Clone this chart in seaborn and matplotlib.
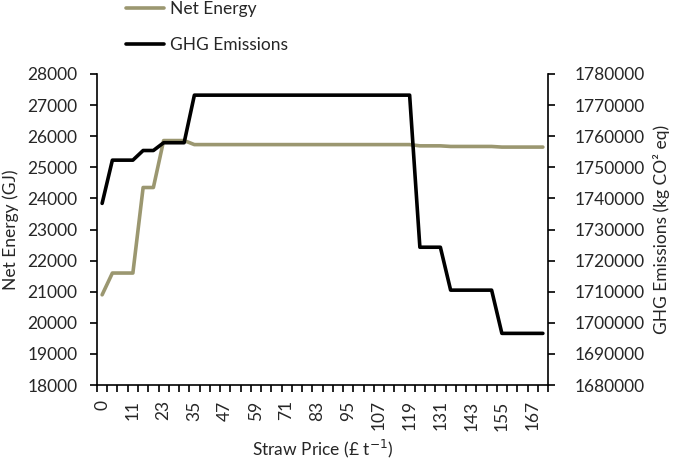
import matplotlib
matplotlib.use("Agg")
import matplotlib.pyplot as plt
import seaborn as sns
import pandas as pd
from matplotlib.lines import Line2D
from matplotlib.ticker import FixedLocator

prices = [0, 3, 7, 11, 15, 19, 23, 27, 31, 35, 39, 43, 47, 51, 55, 59, 63, 67, 71,
          75, 79, 83, 87, 91, 95, 99, 103, 107, 111, 115, 119, 123, 127, 131, 135,
          139, 143, 147, 151, 155, 159, 163, 167, 171]

net_energy = [20900, 21600, 21600, 21600, 24350, 24350, 25860, 25860, 25860,
              25730, 25730, 25730, 25730, 25730, 25730, 25730, 25730, 25730, 25730,
              25730, 25730, 25730, 25730, 25730, 25730, 25730, 25730, 25730, 25730,
              25730, 25730,
              25690, 25690, 25690,
              25670, 25670, 25670, 25670, 25670,
              25650, 25650, 25650, 25650, 25650]

ghg = [1738400, 1752300, 1752300, 1752300, 1755400, 1755400, 1757900, 1757900,
       1757900,
       1773200, 1773200, 1773200, 1773200, 1773200, 1773200, 1773200, 1773200,
       1773200, 1773200, 1773200, 1773200, 1773200, 1773200, 1773200, 1773200,
       1773200, 1773200, 1773200, 1773200, 1773200, 1773200,
       1724300, 1724300, 1724300,
       1710500, 1710500, 1710500, 1710500, 1710500,
       1696600, 1696600, 1696600, 1696600, 1696600]

left_ticks = [18000, 19000, 20000, 21000, 22000, 23000, 24000, 25000, 26000, 27000, 28000]
right_ticks = [1680000, 1690000, 1700000, 1710000, 1720000, 1730000, 1740000,
               1750000, 1760000, 1770000, 1780000]

olive = "#9b9770"
sns.set_style("white")
plt.rcParams['font.family'] = ['Lato', 'DejaVu Sans']
FS = 12.5

df = pd.DataFrame({"idx": list(range(len(prices))), "price": prices,
                   "net": net_energy, "ghg": ghg})

fig = plt.figure(figsize=(6.73, 4.59), dpi=100)
ax = fig.add_axes([97/673, 1-385/459, 451/673, 311/459])
ax2 = ax.twinx()

sns.lineplot(data=df, x="idx", y="net", ax=ax, color=olive, linewidth=2.6)
sns.lineplot(data=df, x="idx", y="ghg", ax=ax2, color="black", linewidth=2.6)

n = len(prices)
ax.set_xlim(-0.5, n - 0.5)
ax.set_ylim(left_ticks[0], left_ticks[-1])
ax2.set_ylim(right_ticks[0], right_ticks[-1])
ax.set_yticks(left_ticks)
ax.set_yticklabels([str(t) for t in left_ticks], fontsize=FS)
ax2.set_yticks(right_ticks)
ax2.set_yticklabels([str(t) for t in right_ticks], fontsize=FS)

lab_idx = list(range(0, n, 3))
ax.set_xticks(lab_idx)
ax.set_xticklabels([str(prices[i]) for i in lab_idx], rotation=90, fontsize=FS)
ax.xaxis.set_minor_locator(FixedLocator([i - 0.5 for i in range(n + 1)]))
ax.tick_params(axis='x', which='major', length=0, pad=11)
ax.tick_params(axis='x', which='minor', length=5, width=1.2, direction='out', color='black', bottom=True)
ax.tick_params(axis='y', length=5, width=1.2, direction='out', color='black', pad=9, left=True)
ax2.tick_params(axis='y', length=5, width=1.2, direction='out', color='black', pad=14, right=True)

for a in (ax, ax2):
    a.spines['top'].set_visible(False)
    for s in ('left', 'right', 'bottom'):
        a.spines[s].set_color('black')
        a.spines[s].set_linewidth(1.2)
ax.spines['right'].set_visible(False)
ax2.spines['left'].set_visible(False)
ax2.spines['bottom'].set_visible(False)

ax.set_xlabel("Straw Price (£ t$^{-1}$)", fontsize=FS)
ax.xaxis.set_label_coords(0.5, -0.17)
ax.set_ylabel("Net Energy (GJ)", fontsize=FS)
ax.yaxis.set_label_coords(-0.172, 0.5)
ax2.set_ylabel("GHG Emissions (kg CO² eq)", fontsize=FS)
ax2.yaxis.set_label_coords(1.232, 0.5)

handles = [Line2D([0], [0], color=olive, lw=2.6), Line2D([0], [0], color='black', lw=2.6)]
fig.legend(handles, ["Net Energy", "GHG Emissions"], loc='upper left',
           bbox_to_anchor=(126/673, 0.997), frameon=False, fontsize=FS,
           handlelength=2.2, handletextpad=0.35, labelspacing=1.12,
           borderpad=0, borderaxespad=0)

fig.savefig("out.png", dpi=100)
